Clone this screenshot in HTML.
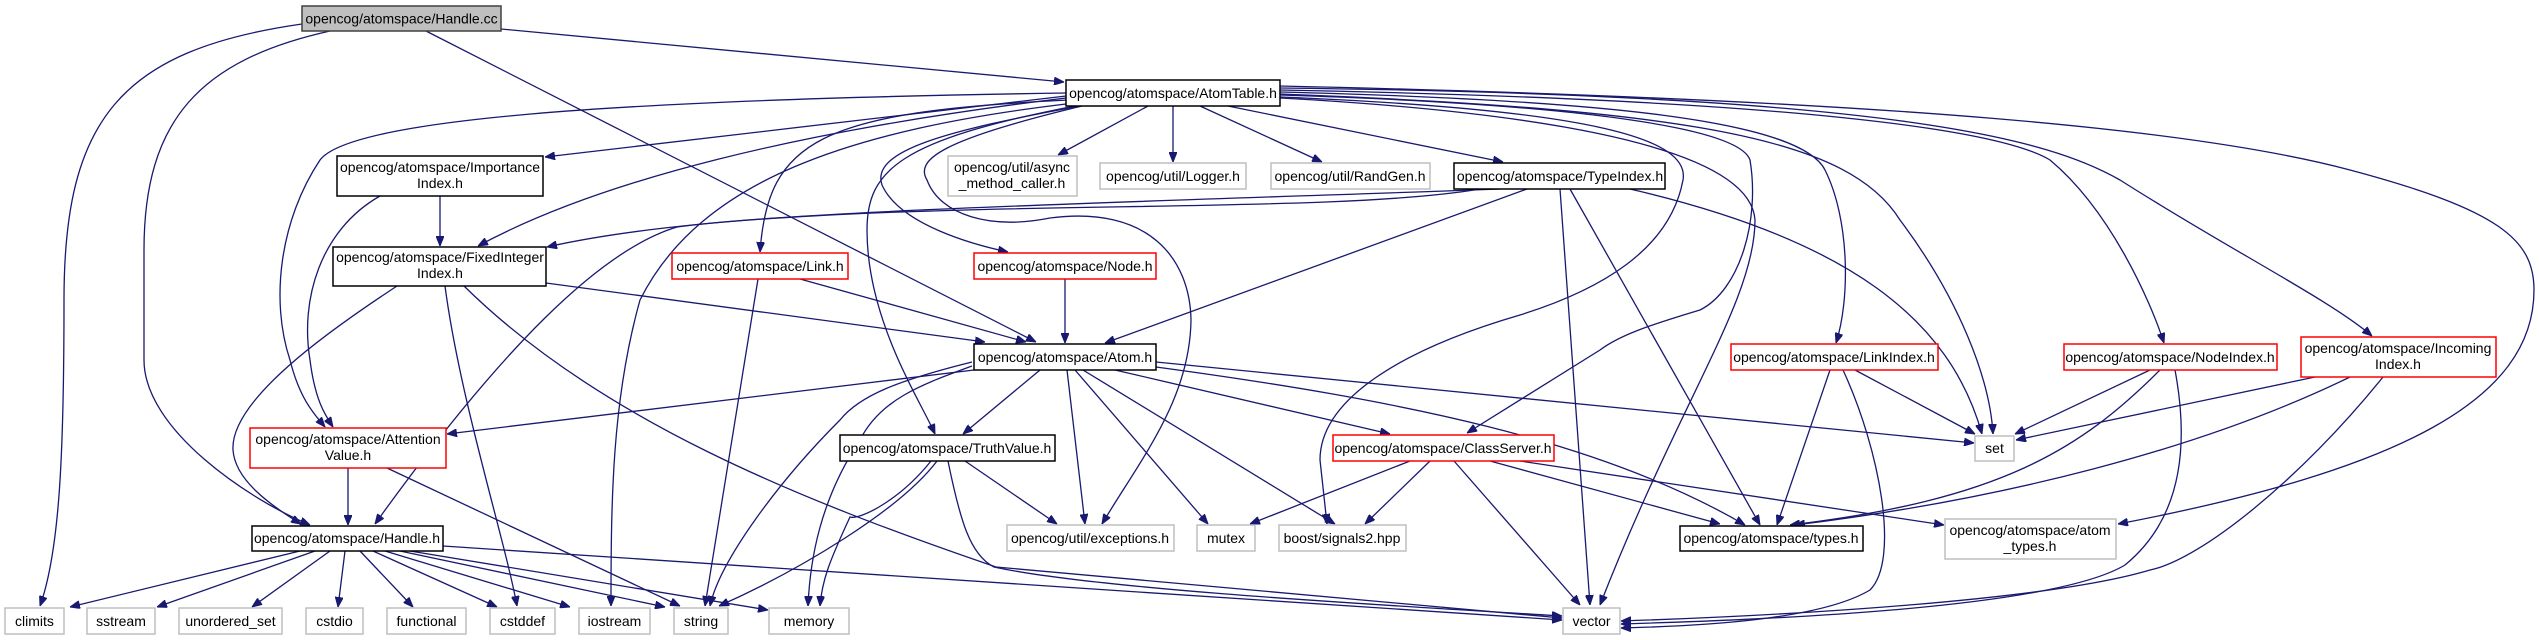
<!DOCTYPE html>
<html><head><meta charset="utf-8"><style>
html,body{margin:0;padding:0;background:#fff;}
svg{display:block;}
text{font-family:"Liberation Sans",Arial,sans-serif;font-size:14px;fill:#000;}
.n{fill:#fff;stroke:#000;stroke-width:1.5;}
.r{fill:#fff;stroke:#ff0000;stroke-width:1.5;}
.g{fill:#fff;stroke:#bfbfbf;stroke-width:1.5;}
.e{fill:none;stroke:#191970;stroke-width:1.3;marker-end:url(#a);}
</style></head><body>
<svg width="2539" height="640" viewBox="0 0 2539 640" xmlns="http://www.w3.org/2000/svg">
<defs><marker id="a" viewBox="0 0 10 8" refX="10" refY="4" markerWidth="10" markerHeight="8" markerUnits="userSpaceOnUse" orient="auto"><path d="M0,0 L10,4 L0,8 z" fill="#191970" stroke="#191970"/></marker></defs>

<g>
<path class="e" d="M302,24 C120,50 64,120 64,300 C64,450 60,550 40,606"/>
<path class="e" d="M330,31 C200,60 144,120 144,250 L144,360 C144,430 250,500 310,525"/>
<path class="e" d="M426,31 L1036,342"/>
<path class="e" d="M501,29 L1064,82"/>
<path class="e" d="M1066,93 C600,100 350,120 320,160 C280,220 270,300 290,360 C300,400 315,415 325,427"/>
<path class="e" d="M380,196 C320,230 300,300 310,360 C315,400 325,415 333,427"/>
<path class="e" d="M1066,96 L545,157"/>
<path class="e" d="M1066,98 C800,130 600,180 478,246"/>
<path class="e" d="M440,196 L440,246"/>
<path class="e" d="M1068,100 C820,112 768,140 760,252"/>
<path class="e" d="M1075,106 C900,140 867,170 867,230 C867,320 920,400 935,434"/>
<path class="e" d="M1080,106 C950,130 870,150 882,185 C900,225 975,245 1008,252"/>
<path class="e" d="M1082,106 C940,140 915,160 927,180 C940,215 990,230 1050,218 C1150,205 1190,260 1191,320 C1190,400 1140,460 1102,524"/>
<path class="e" d="M1066,104 C850,130 700,180 640,300 C612,400 611,500 611,606"/>
<path class="e" d="M1280,97 C1600,110 1690,140 1683,180 C1670,250 1600,290 1520,315 C1400,350 1320,400 1320,460 L1327,524"/>
<path class="e" d="M1280,95 C1600,105 1740,130 1750,160 C1760,220 1740,290 1700,310 C1650,325 1620,335 1600,350 L1467,433"/>
<path class="e" d="M1280,94 C1700,110 1850,140 1900,220 C1960,300 1990,380 1993,434"/>
<path class="e" d="M1280,98 C1500,110 1750,140 1755,220 C1755,300 1680,400 1600,605"/>
<path class="e" d="M1280,92 C1600,100 1800,120 1825,170 C1850,220 1850,300 1836,343"/>
<path class="e" d="M1280,90 C1800,100 2000,130 2050,160 C2110,210 2150,300 2164,343"/>
<path class="e" d="M1280,88 C1900,95 2050,140 2120,180 C2230,250 2330,300 2372,336"/>
<path class="e" d="M1280,86 C1900,100 2200,130 2350,170 C2500,210 2534,240 2534,290 C2534,400 2400,470 2118,524"/>
<path class="e" d="M1148,106 L1058,155"/>
<path class="e" d="M1173,106 L1173,162"/>
<path class="e" d="M1200,106 L1322,162"/>
<path class="e" d="M1228,106 L1503,162"/>
<path class="e" d="M546,283 L985,342"/>
<path class="e" d="M800,279 L1026,342"/>
<path class="e" d="M1065,279 L1065,343"/>
<path class="e" d="M1527,189 L1105,343"/>
<path class="e" d="M397,286 C330,330 230,400 233,450 C235,480 270,505 301,524"/>
<path class="e" d="M445,286 C460,400 505,540 517,606"/>
<path class="e" d="M464,286 C600,420 800,500 996,567 L1562,618"/>
<path class="e" d="M948,461 C960,520 970,555 994,567 C1100,590 1400,606 1562,616"/>
<path class="e" d="M443,546 L1562,620"/>
<path class="e" d="M348,468 L348,525"/>
<path class="e" d="M387,468 L680,606"/>
<path class="e" d="M758,279 L705,606"/>
<path class="e" d="M1500,189 C1200,200 800,210 677,227 C600,250 500,350 375,524"/>
<path class="e" d="M1480,189 C1300,220 800,190 547,247"/>
<path class="e" d="M1630,189 C1850,240 1950,320 1982,434"/>
<path class="e" d="M1560,189 L1590,605"/>
<path class="e" d="M1570,189 L1760,525"/>
<path class="e" d="M1156,362 L1974,443"/>
<path class="e" d="M1156,367 C1400,400 1600,440 1745,525"/>
<path class="e" d="M1490,461 L1720,524"/>
<path class="e" d="M1520,461 L1944,525"/>
<path class="e" d="M1454,461 L1580,605"/>
<path class="e" d="M1410,461 L1250,524"/>
<path class="e" d="M1430,461 L1365,524"/>
<path class="e" d="M974,370 L447,434"/>
<path class="e" d="M972,362 C900,380 860,395 840,420 C780,480 720,560 710,606"/>
<path class="e" d="M972,366 C920,385 880,400 860,440 C820,500 810,560 808,606"/>
<path class="e" d="M1040,370 L963,434"/>
<path class="e" d="M1067,370 L1085,524"/>
<path class="e" d="M1075,370 L1208,524"/>
<path class="e" d="M1083,370 L1335,524"/>
<path class="e" d="M1115,370 L1390,434"/>
<path class="e" d="M965,461 L1057,524"/>
<path class="e" d="M937,461 C900,510 800,570 719,606"/>
<path class="e" d="M931,461 C900,500 860,520 850,517 C830,560 822,580 820,606"/>
<path class="e" d="M1855,370 L1975,434"/>
<path class="e" d="M1830,370 L1777,525"/>
<path class="e" d="M1843,370 C1880,450 1900,560 1870,590 C1820,620 1700,626 1621,628"/>
<path class="e" d="M2150,370 L2015,434"/>
<path class="e" d="M2160,370 C2080,450 2000,500 1790,525"/>
<path class="e" d="M2175,370 C2190,450 2180,520 2125,565 C2050,610 1750,620 1621,624"/>
<path class="e" d="M2315,377 L2016,440"/>
<path class="e" d="M2350,377 C2200,450 2000,500 1795,525"/>
<path class="e" d="M2383,377 C2300,480 2200,560 2150,570 C2050,600 1800,615 1621,621"/>
<path class="e" d="M300,551 L70,607"/>
<path class="e" d="M315,551 L157,607"/>
<path class="e" d="M330,551 L252,607"/>
<path class="e" d="M345,551 L338,607"/>
<path class="e" d="M360,551 L413,607"/>
<path class="e" d="M373,551 L497,607"/>
<path class="e" d="M385,551 L570,607"/>
<path class="e" d="M400,551 L665,607"/>
<path class="e" d="M410,551 L768,610"/>
</g>

<rect x="302" y="6" width="199" height="25" fill="#bfbfbf" stroke="#404040" stroke-width="1.5"/>
<text x="401.5" y="23.5" text-anchor="middle">opencog/atomspace/Handle.cc</text>

<rect class="n" x="1066" y="80" width="214" height="26"/><text x="1173" y="98" text-anchor="middle">opencog/atomspace/AtomTable.h</text>

<rect class="n" x="337" y="156" width="206" height="40"/><text x="440" y="172" text-anchor="middle">opencog/atomspace/Importance</text><text x="440" y="188" text-anchor="middle">Index.h</text>
<rect class="g" x="948" y="156" width="129" height="40"/><text x="1012" y="172" text-anchor="middle">opencog/util/async</text><text x="1012" y="188" text-anchor="middle">_method_caller.h</text>
<rect class="g" x="1100" y="163" width="146" height="26"/><text x="1173" y="181" text-anchor="middle">opencog/util/Logger.h</text>
<rect class="g" x="1271" y="163" width="159" height="26"/><text x="1350" y="181" text-anchor="middle">opencog/util/RandGen.h</text>
<rect class="n" x="1454" y="163" width="211" height="26"/><text x="1560" y="181" text-anchor="middle">opencog/atomspace/TypeIndex.h</text>

<rect class="n" x="333" y="247" width="213" height="39"/><text x="440" y="262" text-anchor="middle">opencog/atomspace/FixedInteger</text><text x="440" y="278" text-anchor="middle">Index.h</text>
<rect class="r" x="672" y="253" width="176" height="26"/><text x="760" y="271" text-anchor="middle">opencog/atomspace/Link.h</text>
<rect class="r" x="974" y="253" width="182" height="26"/><text x="1065" y="271" text-anchor="middle">opencog/atomspace/Node.h</text>

<rect class="n" x="974" y="344" width="182" height="26"/><text x="1065" y="362" text-anchor="middle">opencog/atomspace/Atom.h</text>
<rect class="r" x="1731" y="344" width="207" height="26"/><text x="1834" y="362" text-anchor="middle">opencog/atomspace/LinkIndex.h</text>
<rect class="r" x="2064" y="344" width="213" height="26"/><text x="2170" y="362" text-anchor="middle">opencog/atomspace/NodeIndex.h</text>
<rect class="r" x="2301" y="337" width="195" height="40"/><text x="2398" y="353" text-anchor="middle">opencog/atomspace/Incoming</text><text x="2398" y="369" text-anchor="middle">Index.h</text>

<rect class="r" x="250" y="428" width="196" height="40"/><text x="348" y="444" text-anchor="middle">opencog/atomspace/Attention</text><text x="348" y="460" text-anchor="middle">Value.h</text>
<rect class="n" x="840" y="435" width="215" height="26"/><text x="947" y="453" text-anchor="middle">opencog/atomspace/TruthValue.h</text>
<rect class="r" x="1333" y="435" width="221" height="26"/><text x="1443" y="453" text-anchor="middle">opencog/atomspace/ClassServer.h</text>
<rect class="g" x="1975" y="436" width="39" height="25"/><text x="1994.5" y="453" text-anchor="middle">set</text>

<rect class="n" x="252" y="526" width="191" height="25" stroke="#404040"/><text x="347" y="543" text-anchor="middle">opencog/atomspace/Handle.h</text>
<rect class="g" x="1007" y="525" width="167" height="26"/><text x="1090" y="543" text-anchor="middle">opencog/util/exceptions.h</text>
<rect class="g" x="1197" y="525" width="58" height="26"/><text x="1226" y="543" text-anchor="middle">mutex</text>
<rect class="g" x="1279" y="525" width="127" height="26"/><text x="1342" y="543" text-anchor="middle">boost/signals2.hpp</text>
<rect class="n" x="1680" y="526" width="183" height="25" stroke="#404040"/><text x="1771" y="543" text-anchor="middle">opencog/atomspace/types.h</text>
<rect class="g" x="1945" y="519" width="171" height="40"/><text x="2030" y="535" text-anchor="middle">opencog/atomspace/atom</text><text x="2030" y="551" text-anchor="middle">_types.h</text>

<g>
<rect class="g" x="5" y="608" width="59" height="26"/><text x="34.5" y="626" text-anchor="middle">climits</text>
<rect class="g" x="87" y="608" width="68" height="26"/><text x="121" y="626" text-anchor="middle">sstream</text>
<rect class="g" x="179" y="608" width="103" height="26"/><text x="230.5" y="626" text-anchor="middle">unordered_set</text>
<rect class="g" x="306" y="608" width="57" height="26"/><text x="334.5" y="626" text-anchor="middle">cstdio</text>
<rect class="g" x="387" y="608" width="79" height="26"/><text x="426.5" y="626" text-anchor="middle">functional</text>
<rect class="g" x="490" y="608" width="65" height="26"/><text x="522.5" y="626" text-anchor="middle">cstddef</text>
<rect class="g" x="579" y="608" width="71" height="26"/><text x="614.5" y="626" text-anchor="middle">iostream</text>
<rect class="g" x="674" y="608" width="54" height="26"/><text x="701" y="626" text-anchor="middle">string</text>
<rect class="g" x="769" y="608" width="80" height="26"/><text x="809" y="626" text-anchor="middle">memory</text>
<rect class="g" x="1563" y="608" width="57" height="26"/><text x="1591.5" y="626" text-anchor="middle">vector</text>
</g>
</svg>
</body></html>
